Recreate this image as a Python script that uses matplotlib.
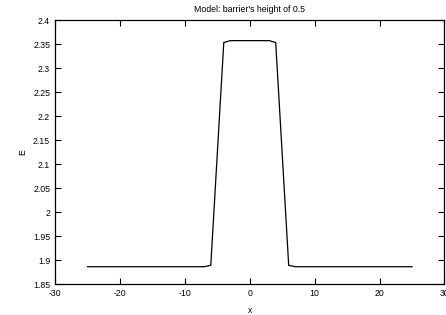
import numpy as np
import matplotlib.pyplot as plt

plt.rcParams['font.family'] = ['Liberation Sans', 'DejaVu Sans']
plt.rcParams['font.size'] = 6.3
plt.rcParams['axes.unicode_minus'] = False

x = [-25, -24, -23, -22, -21, -20, -19, -18, -17, -16, -15, -14, -13, -12, -11, -10,
     -9, -8, -7, -6, -4, -3, -2, -1, 0, 1, 2, 3, 4, 6, 7, 8, 9, 10, 11, 12, 13, 14,
     15, 16, 17, 18, 19, 20, 21, 22, 23, 24, 25]
E = [1.886] * 19 + [1.889, 2.353, 2.357, 2.357, 2.357, 2.357, 2.357, 2.357, 2.357,
                    2.353, 1.889] + [1.886] * 19

fig = plt.figure(figsize=(4.46, 3.15), dpi=100)
ax = fig.add_axes([0.1233, 0.0984, 0.9966 - 0.1233, 0.9365 - 0.0984])

ax.plot(x, E, '-k', linewidth=0.9)

ax.set_xlim(-30, 30)
ax.set_ylim(1.85, 2.4)
ax.set_xticks(np.arange(-30, 31, 10))
ax.set_yticks(np.arange(1.85, 2.41, 0.05))
ax.set_yticklabels(["1.85", "1.9", "1.95", "2", "2.05", "2.1", "2.15", "2.2",
                    "2.25", "2.3", "2.35", "2.4"])
ax.tick_params(direction='in', length=4, width=0.8, top=True, right=True, pad=3.5)
for s in ax.spines.values():
    s.set_linewidth(0.9)

ax.set_xlabel("x", labelpad=6)
ax.set_ylabel("E", labelpad=4)
ax.set_title("Model: barrier's height of 0.5", fontsize=6.3, pad=6)

fig.savefig("out.png", dpi=100)
